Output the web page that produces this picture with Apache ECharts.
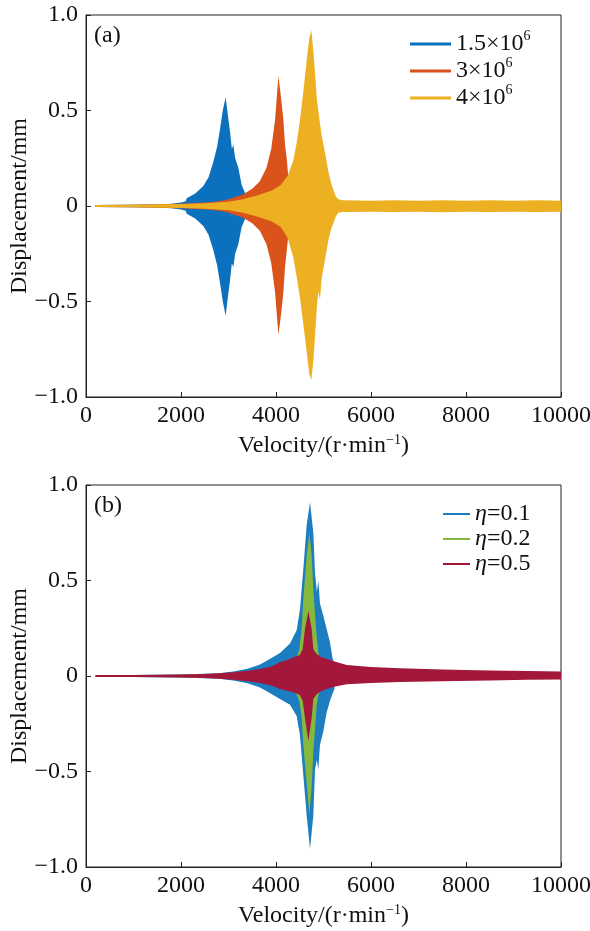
<!DOCTYPE html>
<html>
<head>
<meta charset="utf-8">
<script src="https://cdn.jsdelivr.net/npm/echarts@6/dist/echarts.min.js"></script>
<style>
  html, body { margin: 0; padding: 0; background: #fff; }
  #chart { width: 590px; height: 931px; }
</style>
</head>
<body>
<div id="chart"></div>
<script>
// panel (a): stiffness 1.5e6 / 3e6 / 4e6, envelope of displacement vs velocity
var velA1 = [200, 1000, 1500, 1800, 2000, 2100, 2120, 2300, 2470, 2580, 2680, 2760, 2820, 2880, 2940, 2990, 3032, 3070, 3102, 3140, 3207, 3277, 3347, 3380];
var upA1 = [0.005, 0.006, 0.008, 0.012, 0.018, 0.025, 0.04, 0.065, 0.105, 0.15, 0.23, 0.31, 0.4, 0.5, 0.57, 0.47, 0.39, 0.3, 0.32, 0.25, 0.2, 0.11, 0.07, 0.03];
var loA1 = [-0.005, -0.006, -0.008, -0.012, -0.018, -0.025, -0.04, -0.065, -0.105, -0.15, -0.23, -0.31, -0.4, -0.5, -0.575, -0.47, -0.39, -0.3, -0.32, -0.25, -0.2, -0.11, -0.07, -0.03];

var velA2 = [200, 1000, 2000, 2600, 2800, 3000, 3300, 3500, 3660, 3800, 3900, 3980, 4050, 4100, 4154, 4190, 4225, 4260, 4290];
var upA2 = [0.005, 0.006, 0.012, 0.02, 0.025, 0.035, 0.06, 0.09, 0.13, 0.2, 0.3, 0.45, 0.68, 0.58, 0.455, 0.32, 0.25, 0.15, 0.12];
var loA2 = [-0.005, -0.006, -0.012, -0.02, -0.025, -0.035, -0.06, -0.09, -0.13, -0.2, -0.3, -0.45, -0.675, -0.58, -0.455, -0.32, -0.24, -0.15, -0.12];

var velA3 = [200, 1000, 2000, 2500, 3000, 3300, 3600, 3900, 4100, 4250, 4365, 4435, 4505, 4575, 4645, 4700, 4745, 4790, 4821, 4860, 4891, 4926, 4961, 5032, 5102, 5160, 5207, 5260, 5312, 5400, 6000, 6500, 7000, 7500, 8000, 8500, 9000, 9500, 10000];
var upA3 = [0.005, 0.006, 0.01, 0.015, 0.022, 0.035, 0.055, 0.08, 0.11, 0.16, 0.24, 0.33, 0.45, 0.6, 0.76, 0.88, 0.92, 0.8, 0.7, 0.56, 0.5, 0.43, 0.37, 0.28, 0.18, 0.12, 0.085, 0.05, 0.035, 0.03, 0.028, 0.03, 0.027, 0.03, 0.028, 0.03, 0.028, 0.03, 0.028];
var loA3 = [-0.005, -0.006, -0.01, -0.015, -0.022, -0.035, -0.055, -0.08, -0.11, -0.17, -0.27, -0.37, -0.48, -0.62, -0.76, -0.88, -0.91, -0.8, -0.68, -0.53, -0.45, -0.49, -0.38, -0.28, -0.18, -0.12, -0.09, -0.055, -0.035, -0.032, -0.03, -0.032, -0.03, -0.033, -0.03, -0.032, -0.03, -0.032, -0.03];

// panel (b): damping ratio 0.1 / 0.2 / 0.5
var velB1 = [200, 1000, 2000, 2800, 3100, 3400, 3663, 3804, 4084, 4295, 4435, 4505, 4575, 4646, 4716, 4786, 4821, 4860, 4891, 4926, 4996, 5067, 5137, 5193, 5230];
var upB1 = [0.004, 0.005, 0.008, 0.015, 0.024, 0.038, 0.06, 0.08, 0.12, 0.17, 0.24, 0.35, 0.56, 0.79, 0.91, 0.75, 0.54, 0.44, 0.5, 0.38, 0.316, 0.246, 0.176, 0.09, 0.07];
var loB1 = [-0.004, -0.005, -0.008, -0.015, -0.024, -0.038, -0.06, -0.08, -0.12, -0.15, -0.21, -0.31, -0.52, -0.73, -0.906, -0.73, -0.49, -0.44, -0.49, -0.36, -0.29, -0.19, -0.13, -0.09, -0.07];

var velB2 = [200, 1000, 2000, 2800, 3200, 3600, 3900, 4200, 4421, 4491, 4540, 4575, 4646, 4702, 4751, 4786, 4820, 4856, 4891, 4926, 5000, 5300];
var upB2 = [0.003, 0.004, 0.007, 0.012, 0.018, 0.03, 0.045, 0.07, 0.09, 0.14, 0.25, 0.4, 0.63, 0.75, 0.63, 0.455, 0.33, 0.21, 0.125, 0.08, 0.06, 0.04];
var loB2 = [-0.003, -0.004, -0.007, -0.012, -0.018, -0.03, -0.045, -0.07, -0.09, -0.13, -0.22, -0.36, -0.56, -0.73, -0.58, -0.4, -0.28, -0.155, -0.1, -0.08, -0.06, -0.04];

var velB3 = [200, 1000, 2000, 2500, 2800, 3100, 3400, 3663, 3900, 4084, 4250, 4365, 4500, 4561, 4610, 4681, 4751, 4786, 4856, 4950, 5067, 5250, 5488, 6000, 6610, 7500, 8500, 9300, 10000];
var upB3 = [0.005, 0.005, 0.008, 0.01, 0.014, 0.02, 0.028, 0.037, 0.05, 0.072, 0.085, 0.098, 0.11, 0.14, 0.246, 0.34, 0.246, 0.14, 0.115, 0.1, 0.09, 0.075, 0.058, 0.047, 0.04, 0.034, 0.029, 0.026, 0.023];
var loB3 = [-0.005, -0.005, -0.008, -0.01, -0.014, -0.02, -0.028, -0.037, -0.05, -0.068, -0.078, -0.085, -0.1, -0.13, -0.22, -0.34, -0.22, -0.12, -0.095, -0.08, -0.068, -0.055, -0.043, -0.036, -0.031, -0.027, -0.023, -0.02, -0.018];

var namesA = ['1.5×10^6', '3×10^6', '4×10^6'];
var labelsA = ['1.5×10{sup|6}', '3×10{sup|6}', '4×10{sup|6}'];
var namesB = ['η=0.1', 'η=0.2', 'η=0.5'];
var labelsB = ['{it|η}=0.1', '{it|η}=0.2', '{it|η}=0.5'];
var colorsA = ['#0B70BD', '#D9531A', '#ECB022'];
var colorsB = ['#1C7DC0', '#84B93D', '#A3173A'];

var FONT = '"Liberation Serif", "Times New Roman", serif';
var FS = 24;
var chart = echarts.init(document.getElementById('chart'));

function pairs(v, y) {
  return v.map(function (x, i) { return [x, y[i]]; });
}

// upper and lower envelope, each filled to zero; z keeps later bands on top
function band(name, color, idx, z, v, up, lo) {
  var base = {
    name: name,
    type: 'line',
    xAxisIndex: idx,
    yAxisIndex: idx,
    z: z,
    symbol: 'none',
    silent: true,
    lineStyle: { color: color, width: 0 },
    itemStyle: { color: color },
    areaStyle: { color: color, opacity: 1 }
  };
  return [
    Object.assign({}, base, { data: pairs(v, up) }),
    Object.assign({}, base, { data: pairs(v, lo) })
  ];
}

var supStyle = { fontFamily: FONT, fontSize: 14, color: '#111', verticalAlign: 'bottom', padding: [0, 0, 12, 0] };

function xAxisFor(idx) {
  return {
    type: 'value', gridIndex: idx, min: 0, max: 10000, interval: 2000,
    name: 'Velocity/(r·min{sup|−1})',
    nameLocation: 'middle', nameGap: 36,
    nameTextStyle: { fontFamily: FONT, fontSize: FS, color: '#111', rich: { sup: supStyle } },
    axisLine: { onZero: false, lineStyle: { color: '#222', width: 1 } },
    axisTick: { inside: true, length: 5, lineStyle: { color: '#222' } },
    axisLabel: {
      fontFamily: FONT, fontSize: FS, color: '#111', margin: 7,
      formatter: function (v) { return String(v); }
    },
    splitLine: { show: false }
  };
}

function yAxisFor(idx) {
  return {
    type: 'value', gridIndex: idx, min: -1, max: 1, interval: 0.5,
    name: 'Displacement/mm',
    nameLocation: 'middle', nameGap: 54, nameMoveOverlap: false,
    nameTextStyle: { fontFamily: FONT, fontSize: FS, color: '#111' },
    axisLine: { onZero: false, lineStyle: { color: '#222', width: 1 } },
    axisTick: { inside: true, length: 5, lineStyle: { color: '#222' } },
    axisLabel: {
      fontFamily: FONT, fontSize: FS, color: '#111', margin: 8,
      formatter: function (v) {
        if (v === 0) return '0';
        return (v < 0 ? '\u2212' : '') + Math.abs(v).toFixed(1);
      }
    },
    splitLine: { show: false }
  };
}

var series = []
  .concat(band(namesA[0], colorsA[0], 0, 2, velA1, upA1, loA1))
  .concat(band(namesA[1], colorsA[1], 0, 3, velA2, upA2, loA2))
  .concat(band(namesA[2], colorsA[2], 0, 4, velA3, upA3, loA3))
  .concat(band(namesB[0], colorsB[0], 1, 2, velB1, upB1, loB1))
  .concat(band(namesB[1], colorsB[1], 1, 3, velB2, upB2, loB2))
  .concat(band(namesB[2], colorsB[2], 1, 4, velB3, upB3, loB3));

var option = {
  backgroundColor: '#fff',
  animation: false,
  grid: [
    { left: 86, right: 29, top: 15, height: 382, outerBoundsMode: 'none', containLabel: false, show: true, borderColor: '#222', borderWidth: 1, backgroundColor: 'transparent' },
    { left: 86, right: 29, top: 485, height: 382, outerBoundsMode: 'none', containLabel: false, show: true, borderColor: '#222', borderWidth: 1, backgroundColor: 'transparent' }
  ],
  xAxis: [xAxisFor(0), xAxisFor(1)],
  yAxis: [yAxisFor(0), yAxisFor(1)],
  legend: [
    {
      data: namesA, orient: 'vertical', left: 410, top: 29, padding: 0,
      icon: 'rect', itemWidth: 41, itemHeight: 3, itemGap: 0,
      selectedMode: false,
      formatter: function (n) { return labelsA[namesA.indexOf(n)]; },
      textStyle: { fontFamily: FONT, fontSize: FS, color: '#111', lineHeight: 22, rich: { sup: supStyle } }
    },
    {
      data: namesB, orient: 'vertical', left: 443, top: 502, padding: 0,
      icon: 'rect', itemWidth: 27, itemHeight: 2, itemGap: 1,
      selectedMode: false,
      formatter: function (n) { return labelsB[namesB.indexOf(n)]; },
      textStyle: {
        fontFamily: FONT, fontSize: FS, color: '#111', lineHeight: 23,
        rich: { it: { fontFamily: FONT, fontSize: FS, fontStyle: 'italic', color: '#111' } }
      }
    }
  ],
  graphic: [
    { type: 'text', left: 94, top: 24, style: { text: '(a)', font: FS + 'px ' + FONT, fill: '#111' } },
    { type: 'text', left: 94, top: 494, style: { text: '(b)', font: FS + 'px ' + FONT, fill: '#111' } }
  ],
  series: series
};

chart.setOption(option);
</script>
</body>
</html>
